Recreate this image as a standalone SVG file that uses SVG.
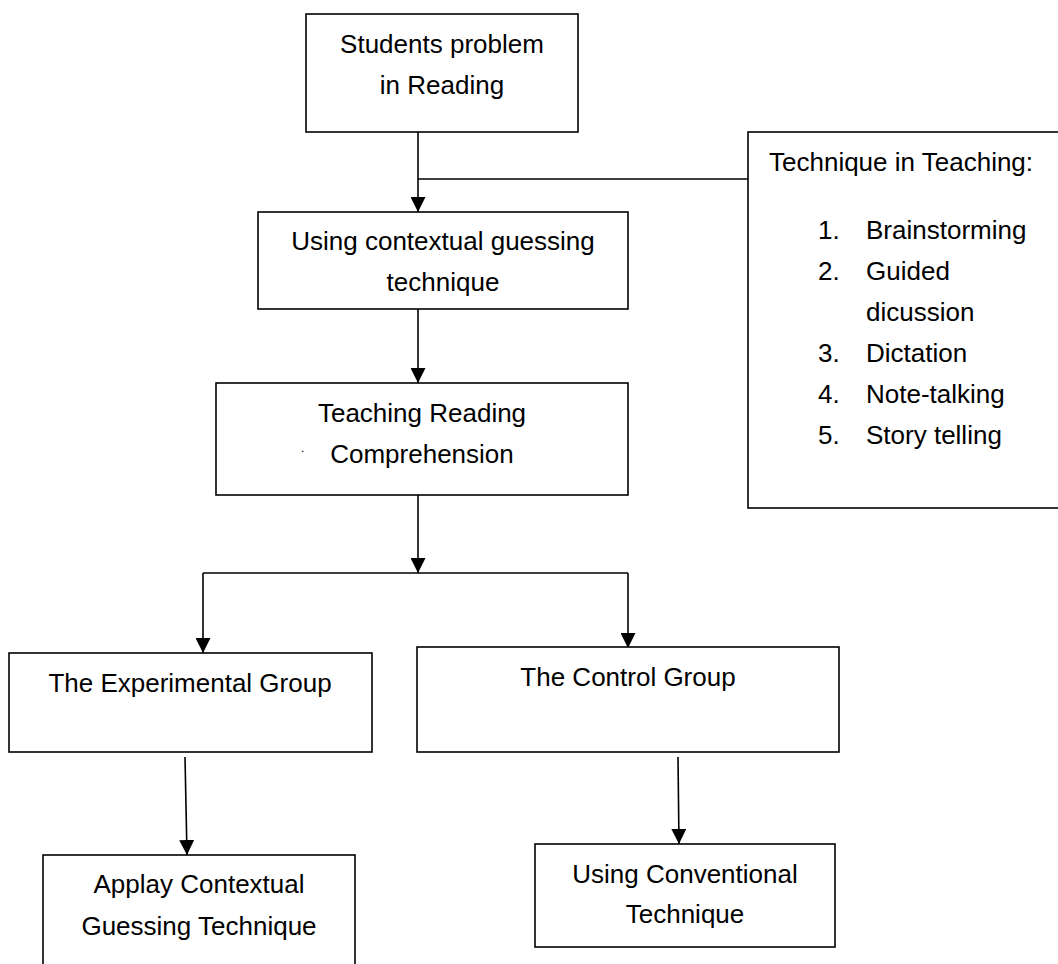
<svg xmlns="http://www.w3.org/2000/svg" width="1058" height="964" viewBox="0 0 1058 964">
<style>
.box{fill:#fff;stroke:#000;stroke-width:1.6}
.t{font-family:"Liberation Sans",Arial,sans-serif;font-size:26px;fill:#000}
.c{text-anchor:middle}
.ln{fill:none;stroke:#000;stroke-width:1.6}
</style>
<defs>
<marker id="ah" markerUnits="userSpaceOnUse" markerWidth="15" markerHeight="15" refX="15" refY="7.5" orient="auto">
<path d="M0,0 L15,7.5 L0,15 z" fill="#000"/>
</marker>
</defs>
<rect width="1058" height="964" fill="#fff"/>
<g id="connectors">
<line class="ln" x1="418" y1="132" x2="418" y2="212" marker-end="url(#ah)"/>
<line class="ln" x1="418" y1="179" x2="748" y2="179"/>
<line class="ln" x1="418" y1="309" x2="418" y2="383" marker-end="url(#ah)"/>
<line class="ln" x1="418" y1="495" x2="418" y2="573" marker-end="url(#ah)"/>
<polyline class="ln" points="203,573 628,573"/>
<line class="ln" x1="203" y1="573" x2="203" y2="653" marker-end="url(#ah)"/>
<line class="ln" x1="628" y1="573" x2="628" y2="648" marker-end="url(#ah)"/>
<line class="ln" x1="185" y1="757" x2="187" y2="855" marker-end="url(#ah)"/>
<line class="ln" x1="678" y1="757" x2="679" y2="844" marker-end="url(#ah)"/>
</g>
<g id="n-students">
<rect class="box" x="306" y="14" width="272" height="118"/>
<text class="t c" x="442" y="53">Students problem</text>
<text class="t c" x="442" y="94">in Reading</text>
</g>
<g id="n-technique">
<rect class="box" x="748" y="132" width="330" height="376"/>
<text class="t" x="769" y="171">Technique in Teaching:</text>
<text class="t" x="818" y="239">1.</text><text class="t" x="866" y="239">Brainstorming</text>
<text class="t" x="818" y="280">2.</text><text class="t" x="866" y="280">Guided</text>
<text class="t" x="866" y="321">dicussion</text>
<text class="t" x="818" y="362">3.</text><text class="t" x="866" y="362">Dictation</text>
<text class="t" x="818" y="403">4.</text><text class="t" x="866" y="403">Note-talking</text>
<text class="t" x="818" y="444">5.</text><text class="t" x="866" y="444">Story telling</text>
</g>
<g id="n-using">
<rect class="box" x="258" y="212" width="370" height="97"/>
<text class="t c" x="443" y="250">Using contextual guessing</text>
<text class="t c" x="443" y="291">technique</text>
</g>
<g id="n-teaching">
<rect class="box" x="216" y="383" width="412" height="112"/>
<text class="t c" x="422" y="422">Teaching Reading</text>
<text class="t" x="301" y="452" style="font-size:12px">.</text>
<text class="t c" x="422" y="463">Comprehension</text>
</g>
<g id="n-experimental">
<rect class="box" x="9" y="653" width="363" height="99"/>
<text class="t c" x="190" y="692">The Experimental Group</text>
</g>
<g id="n-control">
<rect class="box" x="417" y="647" width="422" height="105"/>
<text class="t c" x="628" y="686">The Control Group</text>
</g>
<g id="n-applay">
<rect class="box" x="43" y="855" width="312" height="130"/>
<text class="t c" x="199" y="893">Applay Contextual</text>
<text class="t c" x="199" y="935">Guessing Technique</text>
</g>
<g id="n-conventional">
<rect class="box" x="535" y="844" width="300" height="103"/>
<text class="t c" x="685" y="883">Using Conventional</text>
<text class="t c" x="685" y="923">Technique</text>
</g>
</svg>
